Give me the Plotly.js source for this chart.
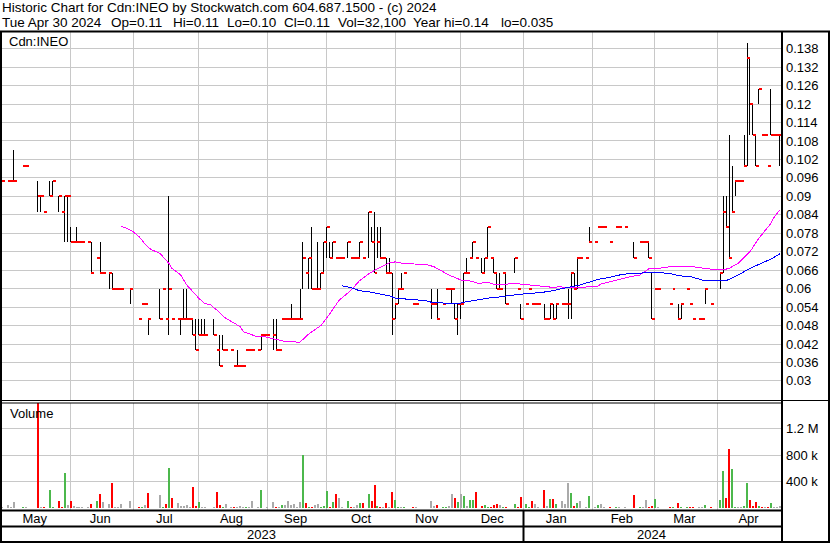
<!DOCTYPE html>
<html><head><meta charset="utf-8">
<script src="https://cdn.plot.ly/plotly-3.0.1.min.js"></script>
<style>html,body{margin:0;padding:0;background:#fff;overflow:hidden}#chart{width:830px;height:543px}
#chart .scatterlayer path.js-line{shape-rendering:crispEdges}
#chart .barlayer path{shape-rendering:crispEdges}
</style>
</head><body><div id="chart"></div>
<script>
// weekday index (0 = Mon May 1 2023 ... 261 = Tue Apr 30 2024); only days with trades
const day = [0,2,3,4,7,8,12,13,14,16,17,19,20,21,22,23,24,25,26,27,29,30,32,33,34,36,37,38,39,40,43,46,47,48,49,53,54,55,56,57,59,60,61,62,63,64,65,66,67,68,71,72,73,74,75,77,78,79,80,81,82,83,84,86,87,88,89,91,92,93,94,95,96,97,98,99,100,101,102,103,104,105,106,107,108,109,110,111,112,113,114,116,117,118,119,120,121,123,124,125,126,127,128,129,130,131,132,133,134,135,138,139,144,145,146,148,149,150,151,152,153,154,155,156,157,158,159,161,162,163,164,165,166,167,168,169,172,173,174,176,177,178,179,180,182,183,184,185,186,188,189,190,191,192,193,194,196,197,199,200,201,202,204,206,207,209,212,214,215,216,217,218,219,220,224,225,227,228,230,231,232,234,235,236,238,241,242,243,244,245,246,247,248,249,250,251,252,253,254,255,256,257,258,259,260,261];
const hi = [.095,.095,.095,.105,.10,.10,.095,.09,.085,.095,.095,.09,.085,.09,.09,.08,.075,.08,.075,.075,.075,.075,.07,.075,.065,.065,.065,.06,.06,.06,.06,.05,.055,.055,.05,.06,.06,.05,.09,.05,.05,.05,.06,.06,.05,.05,.05,.05,.05,.05,.05,.04,.045,.045,.04,.04,.035,.04,.035,.035,.04,.04,.04,.04,.045,.045,.045,.05,.05,.04,.05,.05,.05,.055,.05,.05,.06,.075,.065,.07,.08,.06,.075,.065,.075,.08,.075,.075,.07,.07,.07,.075,.07,.07,.07,.075,.07,.085,.08,.085,.08,.08,.07,.07,.07,.065,.055,.06,.065,.065,.055,.055,.06,.055,.06,.055,.06,.06,.06,.055,.055,.055,.065,.07,.07,.075,.07,.07,.07,.08,.07,.07,.065,.065,.065,.065,.07,.06,.055,.055,.06,.055,.055,.055,.055,.05,.055,.055,.055,.055,.055,.06,.065,.065,.07,.07,.07,.08,.075,.08,.08,.08,.075,.08,.08,.08,.075,.075,.075,.075,.075,.065,.06,.06,.055,.06,.055,.055,.06,.055,.05,.05,.05,.06,.055,.065,.09,.09,.11,.10,.095,.095,.095,.11,.14,.135,.12,.11,.125,.11,.11,.10,.125,.11,.11,.11];
const lo = [.095,.095,.095,.095,.10,.10,.085,.085,.085,.09,.09,.085,.085,.075,.075,.075,.075,.075,.075,.075,.075,.065,.07,.065,.065,.06,.06,.06,.06,.06,.055,.05,.055,.055,.045,.05,.06,.05,.045,.05,.05,.045,.05,.05,.05,.045,.04,.045,.045,.045,.045,.04,.035,.04,.04,.04,.035,.035,.035,.035,.04,.04,.04,.04,.04,.045,.045,.04,.04,.04,.05,.05,.05,.05,.05,.05,.05,.06,.065,.06,.06,.06,.06,.06,.065,.07,.07,.07,.07,.07,.07,.07,.07,.07,.07,.07,.07,.07,.075,.065,.07,.07,.07,.065,.065,.045,.05,.055,.06,.065,.055,.055,.05,.055,.05,.055,.06,.06,.055,.05,.045,.05,.055,.065,.07,.07,.07,.065,.065,.07,.07,.065,.06,.06,.065,.055,.065,.06,.05,.055,.06,.055,.055,.055,.05,.05,.05,.05,.05,.055,.055,.05,.05,.06,.06,.07,.07,.075,.075,.08,.08,.08,.075,.08,.08,.08,.07,.075,.075,.075,.07,.05,.06,.06,.055,.06,.05,.05,.06,.055,.05,.05,.05,.055,.055,.06,.065,.08,.07,.085,.09,.095,.095,.10,.10,.11,.11,.10,.12,.11,.11,.10,.11,.11,.11,.10];
const cl = [.095,.095,.095,.095,.10,.10,.09,.09,.085,.09,.095,.09,.085,.09,.09,.075,.075,.075,.075,.075,.075,.065,.07,.065,.065,.065,.06,.06,.06,.06,.06,.05,.055,.055,.05,.05,.06,.05,.06,.05,.05,.05,.05,.05,.05,.045,.04,.045,.045,.045,.045,.04,.035,.04,.04,.04,.035,.035,.035,.035,.04,.04,.04,.04,.045,.045,.045,.045,.04,.04,.05,.05,.05,.05,.05,.05,.05,.07,.065,.07,.06,.06,.06,.065,.075,.08,.07,.075,.07,.07,.07,.075,.07,.07,.07,.075,.07,.085,.075,.065,.075,.07,.07,.065,.065,.05,.055,.06,.06,.065,.055,.055,.055,.055,.05,.055,.06,.06,.06,.05,.055,.055,.065,.065,.07,.075,.07,.065,.07,.08,.07,.065,.06,.06,.065,.055,.07,.06,.05,.055,.06,.055,.055,.055,.05,.05,.055,.05,.055,.055,.055,.055,.065,.06,.07,.07,.07,.075,.075,.08,.08,.08,.075,.08,.08,.08,.07,.075,.075,.075,.07,.05,.06,.06,.055,.06,.05,.055,.06,.055,.05,.05,.05,.06,.055,.065,.085,.08,.07,.085,.095,.095,.095,.10,.135,.12,.11,.10,.125,.11,.11,.10,.11,.11,.11,.11];
const vol = [10000,45000,10000,85000,20000,10000,1600000,15000,10000,270000,15000,105000,10000,525000,45000,105000,25000,10000,10000,10000,10000,60000,105000,210000,85000,60000,375000,15000,10000,60000,105000,10000,15000,45000,225000,195000,10000,60000,600000,150000,75000,30000,30000,45000,15000,315000,30000,90000,15000,10000,10000,240000,45000,15000,60000,10000,10000,15000,30000,15000,10000,15000,105000,10000,270000,5000,10000,90000,10000,10000,45000,45000,105000,45000,60000,15000,90000,800000,75000,10000,10000,45000,60000,15000,30000,255000,10000,90000,210000,150000,10000,105000,10000,10000,45000,75000,75000,210000,105000,345000,30000,15000,15000,75000,15000,240000,120000,15000,15000,10000,10000,15000,105000,30000,45000,10000,15000,30000,210000,150000,90000,210000,180000,30000,120000,120000,240000,30000,45000,10000,15000,45000,60000,45000,15000,15000,60000,15000,165000,60000,10000,105000,60000,15000,270000,30000,135000,135000,60000,105000,60000,375000,225000,30000,75000,105000,10000,180000,10000,45000,60000,15000,10000,10000,10000,15000,195000,10000,10000,120000,15000,30000,135000,15000,10000,10000,75000,15000,15000,15000,10000,10000,10000,45000,10000,120000,555000,150000,890000,585000,15000,10000,10000,30000,375000,120000,30000,90000,30000,10000,10000,10000,75000,10000,10000,32100];
// moving averages
const ma1Day = [40,42,44,46,48,50,53,54,56,57,60,62,64,66,68,70,72,74,75,77,80,81,83,85,88,90,92,95,100,101,103,107,110,113,117,120,123,127,130,132,133,137,140,143,145,147,150,154,157,160,163,164,166,169,171,174,177,180,185,187,190,194,197,200,201,204,207,211,214,216,217,221,224,227,231,234,237,240,242,244,247,251,254,258,259,261];
const ma1Val = [.0802,.0796,.0785,.0769,.0745,.0727,.0715,.0704,.0682,.0666,.0644,.0612,.0590,.0569,.0552,.0547,.0531,.0511,.0504,.0493,.0476,.0460,.0453,.0446,.0444,.0439,.0433,.0428,.0426,.0436,.0453,.0480,.0518,.0561,.0594,.0626,.0648,.0670,.0684,.0687,.0684,.0681,.0679,.0677,.0671,.0661,.0644,.0628,.0625,.0617,.0621,.0617,.0612,.0614,.0617,.0615,.0612,.0611,.0604,.0606,.0604,.0604,.0606,.0608,.0615,.0622,.0631,.0639,.0644,.0657,.0664,.0667,.0671,.0671,.0673,.0668,.0664,.0661,.0661,.0666,.0682,.0720,.0764,.0812,.0831,.0856];
const ma2Day = [114,117,120,123,127,130,132,135,138,142,144,149,153,155,159,163,166,169,174,178,183,187,190,194,197,200,204,207,211,214,217,221,224,227,231,235,240,243,247,251,254,258,261];
const ma2Val = [.0609,.0604,.0593,.0590,.0582,.0577,.0569,.0566,.0563,.0561,.0556,.0552,.0550,.0556,.0563,.0569,.0572,.0576,.0582,.0585,.0590,.0598,.0604,.0612,.0621,.0630,.0637,.0644,.0650,.0650,.0653,.0652,.0650,.0642,.0639,.0628,.0628,.0626,.0644,.0666,.0679,.0696,.0713];
// axes
const monthStart = [23,44,66,89,109,132,154,175,198,219,240];
const monthMid = [11,33,54.5,77,98.5,120.5,142.5,164.5,186,208,229,250.5];
const monthLabel = ['May','Jun','Jul','Aug','Sep','Oct','Nov','Dec','Jan','Feb','Mar','Apr'];
const yearMid = [87,218];
const yearLabel = ['2023','2024'];
const priceTicks = [0.03,0.036,0.042,0.048,0.054,0.06,0.066,0.072,0.078,0.084,0.09,0.096,0.102,0.108,0.114,0.12,0.126,0.132,0.138];
const priceTickText = ['0.03','0.036','0.042','0.048','0.054','0.06','0.066','0.072','0.078','0.084','0.09','0.096','0.102','0.108','0.114','0.12','0.126','0.132','0.138'];
const volTicks = [400000,800000,1200000];
const volTickText = ['400 k','800 k','1.2 M'];
const header1 = 'Historic Chart for Cdn:INEO by Stockwatch.com 604.687.1500 - (c) 2024';
const header2 = ['Tue Apr 30 2024','Op=0.11','Hi=0.11','Lo=0.10','Cl=0.11','Vol=32,100','Year hi=0.14','lo=0.035'];

const FONT = 'Liberation Sans, Arial, sans-serif';
const GRID = '#c8c8c8';
const W = 780, H = 478, L = 2, T = 32;
const px = x => (x - L) / W;
const py = y => 1 - (y - T) / H;
const header2X = [0, 109, 171, 225, 282, 336, 411, 499];   // left edges, px

const hlX = [], hlY = [], tkX = [], tkY = [];
for (let i = 0; i < day.length; i++) {
  if (hi[i] > lo[i]) { hlX.push(day[i], day[i], null); hlY.push(lo[i], hi[i], null); }
  tkX.push(day[i], day[i] + 1, null); tkY.push(cl[i], cl[i], null);
}
const volColor = cl.map((c, i) => i === 0 ? '#aaaaaa' : (c > cl[i-1] + 1e-9 ? '#4cb84c' : (c < cl[i-1] - 1e-9 ? '#ff0000' : '#aaaaaa')));

const traces = [
  {type:'scatter', mode:'lines', x:hlX, y:hlY, xaxis:'x', yaxis:'y', line:{color:'#000', width:1}, hoverinfo:'skip'},
  {type:'scatter', mode:'lines', x:tkX, y:tkY, xaxis:'x', yaxis:'y', line:{color:'#ff0000', width:2}, hoverinfo:'skip'},
  {type:'scatter', mode:'lines', x:ma1Day, y:ma1Val, xaxis:'x', yaxis:'y', line:{color:'#ff00ff', width:1}},
  {type:'scatter', mode:'lines', x:ma2Day, y:ma2Val, xaxis:'x', yaxis:'y', line:{color:'#0000ff', width:1}},
  {type:'bar', x:day, y:vol, xaxis:'x2', yaxis:'y2', width:0.67, marker:{color:volColor, line:{width:0}}},
  // carrier for the month label axis (no visible marks)
  {type:'scatter', mode:'markers', x:[], y:[], xaxis:'x3', yaxis:'y2', hoverinfo:'skip'}
];

const xr = [0, 261.74];
const layout = {
  width:830, height:543,
  margin:{l:L, r:48, t:T, b:33, autoexpand:false},
  paper_bgcolor:'#fff', plot_bgcolor:'#fff',
  showlegend:false, hovermode:false,
  font:{family:FONT, size:13, color:'#000'},
  xaxis:{domain:[0,1], range:xr, anchor:'y', tickmode:'array', tickvals:monthStart, showticklabels:false,
         showgrid:true, gridcolor:GRID, gridwidth:1, zeroline:false, showline:false, ticks:''},
  xaxis2:{domain:[0,1], range:xr, anchor:'y2', tickmode:'array', tickvals:monthStart, showticklabels:false,
          showgrid:true, gridcolor:GRID, gridwidth:1, zeroline:false, showline:false, ticks:''},
  xaxis3:{overlaying:'x2', range:xr, anchor:'y2', side:'bottom', tickmode:'array', tickvals:monthMid, ticktext:monthLabel,
          showgrid:false, zeroline:false, showline:false, ticks:'', ticklabelstandoff:-1, tickfont:{family:FONT, size:13, color:'#000'}},
  yaxis:{domain:[(510-401)/H, 1], range:[0.02347, 0.14343], anchor:'x', side:'right', tickmode:'array',
         tickvals:priceTicks, ticktext:priceTickText, showgrid:true, gridcolor:GRID, gridwidth:1,
         zeroline:false, showline:false, ticks:'', ticklabelstandoff:3, tickfont:{family:FONT, size:13, color:'#000'}},
  yaxis2:{domain:[0, (510-403)/H], range:[-30200, 1584900], anchor:'x2', side:'right', tickmode:'array',
          tickvals:volTicks, ticktext:volTickText, showgrid:true, gridcolor:GRID, gridwidth:1,
          zeroline:false, showline:false, ticks:'', ticklabelstandoff:3, tickfont:{family:FONT, size:13, color:'#000'}},
  annotations:[
    {xref:'paper', yref:'paper', x:px(0), y:py(7.5), xanchor:'left', yanchor:'middle', showarrow:false, text:header1, font:{family:FONT,size:13.5}},
    {xref:'paper', yref:'paper', x:px(7), y:py(41), xanchor:'left', yanchor:'middle', showarrow:false, text:'Cdn:INEO', font:{family:FONT,size:13}},
    {xref:'paper', yref:'paper', x:px(7.5), y:py(413), xanchor:'left', yanchor:'middle', showarrow:false, text:'Volume', font:{family:FONT,size:13}}
  ].concat(header2.map((t, i) => ({xref:'paper', yref:'paper', x:px(header2X[i]), y:py(22), xanchor:'left', yanchor:'middle',
      showarrow:false, text:t, font:{family:FONT,size:13.5}})))
   .concat(yearMid.map((m, i) => ({xref:'x', yref:'paper', x:m, y:py(534.5), xanchor:'center', yanchor:'middle',
      showarrow:false, text:yearLabel[i], font:{family:FONT,size:13}}))),
  shapes:[
    {x0:px(0), x1:px(830), y0:py(31.5), y1:py(31.5), w:2},
    {x0:px(1), x1:px(1), y0:py(31), y1:py(543), w:2},
    {x0:px(829), x1:px(829), y0:py(31), y1:py(543), w:2},
    {x0:px(0), x1:px(830), y0:py(542), y1:py(542), w:2},
    {x0:px(782), x1:px(782), y0:py(31), y1:py(543), w:2},
    {x0:px(0), x1:px(830), y0:py(400.5), y1:py(400.5), w:1},
    {x0:px(0), x1:px(782), y0:py(403), y1:py(403), w:1},
    {x0:px(0), x1:px(782), y0:py(510.5), y1:py(510.5), w:2},
    {x0:px(0), x1:px(782), y0:py(526.5), y1:py(526.5), w:2},
    {x0:px(523.5), x1:px(523.5), y0:py(510), y1:py(543), w:2}
  ].map(s => ({type:'line', xref:'paper', yref:'paper', x0:s.x0, x1:s.x1, y0:s.y0, y1:s.y1, line:{color:'#000', width:s.w}}))
};

Plotly.newPlot('chart', traces, layout, {staticPlot:true, displayModeBar:false});
</script></body></html>
